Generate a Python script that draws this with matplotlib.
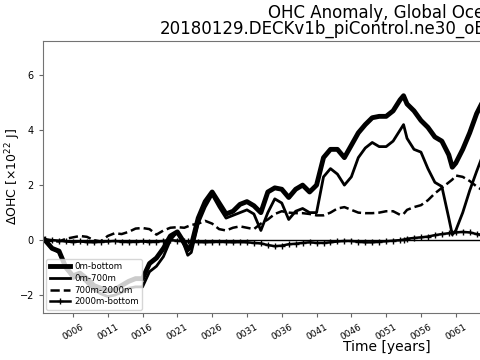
import matplotlib
matplotlib.use("Agg")
import matplotlib.pyplot as plt

years = [1.7, 2, 3, 4, 5, 6, 7, 8, 9, 10, 11, 12, 13, 14, 15, 16, 17, 18, 19, 20,
         21, 22, 22.5, 23, 24, 25, 26, 27, 28, 29, 30, 31, 32, 33, 34, 35, 36, 37,
         38, 39, 40, 41, 42, 43, 44, 45, 46, 47, 48, 49, 50, 51, 52, 53, 53.5, 54,
         55, 56, 57, 58, 59, 60, 60.5, 61, 62, 63, 64, 64.6]

ohc_0_bottom = [0.05, 0.0, -0.3, -0.4, -1.0, -1.3, -1.2, -1.4, -1.65, -1.75, -1.85,
                -1.8, -1.65, -1.5, -1.4, -1.4, -0.85, -0.65, -0.3, 0.15, 0.3, -0.1,
                -0.35, -0.2, 0.8, 1.4, 1.75, 1.35, 0.95, 1.05, 1.3, 1.4, 1.25, 1.0,
                1.75, 1.9, 1.85, 1.55, 1.85, 2.0, 1.75, 2.0, 3.0, 3.3, 3.3, 3.0, 3.45,
                3.9, 4.2, 4.45, 4.5, 4.5, 4.7, 5.1, 5.25, 4.95, 4.7, 4.35, 4.1, 3.75,
                3.6, 3.1, 2.65, 2.8, 3.3, 3.9, 4.6, 4.9]

ohc_0_700 = [0.05, -0.05, -0.3, -0.45, -1.0, -1.4, -1.3, -1.55, -1.8, -1.95, -2.05,
             -2.0, -1.9, -1.75, -1.7, -1.7, -1.15, -0.95, -0.6, 0.0, 0.3, -0.2,
             -0.55, -0.45, 0.6, 1.2, 1.65, 1.2, 0.8, 0.9, 1.0, 1.1, 0.95, 0.35,
             1.0, 1.5, 1.35, 0.75, 1.05, 1.15, 1.0, 1.0, 2.3, 2.6, 2.4, 2.0, 2.3,
             3.0, 3.35, 3.55, 3.4, 3.4, 3.6, 4.0, 4.2, 3.7, 3.3, 3.2, 2.6, 2.1,
             1.95, 0.8, 0.2, 0.35, 1.0, 1.8, 2.5, 2.9]

ohc_700_2000 = [0.0, 0.0, -0.03, -0.05, 0.05, 0.1, 0.15, 0.12, 0.0, -0.05, 0.15,
                0.25, 0.22, 0.3, 0.42, 0.44, 0.4, 0.2, 0.35, 0.45, 0.47, 0.45, 0.5,
                0.55, 0.6, 0.7, 0.6, 0.4, 0.35, 0.45, 0.5, 0.45, 0.4, 0.6, 0.75,
                0.95, 1.05, 1.0, 0.98, 0.98, 0.95, 0.9, 0.9, 1.0, 1.15, 1.2, 1.1,
                1.0, 0.98, 0.98, 1.0, 1.05, 1.05, 0.92, 0.95, 1.1, 1.2, 1.27, 1.45,
                1.7, 1.9, 2.1, 2.2, 2.35, 2.3, 2.15, 1.95, 1.85]

ohc_2000_bottom = [0.05, 0.03, 0.0, -0.02, -0.05, -0.07, -0.05, -0.07, -0.08, -0.06,
                   -0.05, -0.03, -0.06, -0.07, -0.06, -0.05, -0.07, -0.06, -0.03, 0.0,
                   -0.02, -0.05, -0.05, -0.06, -0.07, -0.08, -0.07, -0.06, -0.07,
                   -0.08, -0.07, -0.08, -0.1, -0.12, -0.18, -0.22, -0.2, -0.15, -0.13,
                   -0.1, -0.08, -0.1, -0.1, -0.08, -0.05, -0.03, -0.03, -0.06, -0.08,
                   -0.08, -0.06, -0.04, -0.02, 0.0, 0.02, 0.05, 0.08, 0.1, 0.13, 0.18,
                   0.22, 0.25, 0.27, 0.28, 0.3, 0.28, 0.22, 0.2]

labels = ["0m-bottom", "0m-700m", "700m-2000m", "2000m-bottom"]
tick_years = [6, 11, 16, 21, 26, 31, 36, 41, 46, 51, 56, 61]
tick_labels = ["%04d" % y for y in tick_years]
yticks = [-2, 0, 2, 4, 6]

fig = plt.figure(figsize=(4.8, 3.6), dpi=100)
ax = fig.add_axes([43 / 480, 1 - 313 / 360, (482 - 43) / 480, (313 - 41) / 360])

ax.plot(years, ohc_0_bottom, color="k", lw=3.5, label=labels[0])
ax.plot(years, ohc_0_700, color="k", lw=2.0, label=labels[1])
ax.plot(years, ohc_700_2000, color="k", lw=1.8, ls="--", label=labels[2])
ax.plot(years, ohc_2000_bottom, color="k", lw=1.8, marker="+", ms=4, mew=1,
        label=labels[3])
ax.axhline(0, color="k", lw=1)

ax.set_xlim(1.7, 64.77)
ax.set_ylim(-2.65, 7.24)
ax.set_yticks(yticks)
ax.set_xticks(tick_years)
ax.set_xticklabels(tick_labels, rotation=30, ha="center", fontsize=6.5)
ax.tick_params(axis="y", labelsize=7)
ax.tick_params(axis="both", length=3, color="0.4")
for s in ax.spines.values():
    s.set_color("0.45")

ax.set_ylabel(r"$\Delta$OHC [$\times 10^{22}$ J]", fontsize=9)
ax.yaxis.set_label_coords((23 - 43) / (482 - 43), 0.5)
ax.set_xlabel("Time [years]", fontsize=10)
ax.xaxis.set_label_coords((387 - 43) / (482 - 43), -0.1)

leg = ax.legend(loc="lower left", fontsize=6.2, framealpha=0.8, handlelength=2.3,
                borderaxespad=0.4, labelspacing=0.3, handletextpad=0.5)

fig.text(268 / 480, 1 - 18 / 360, "OHC Anomaly, Global Ocean", ha="left",
         va="baseline", fontsize=12)
fig.text(160 / 480, 1 - 34 / 360, "20180129.DECKv1b_piControl.ne30_oEC.edison",
         ha="left", va="baseline", fontsize=12)

fig.savefig("out.png", dpi=100)
